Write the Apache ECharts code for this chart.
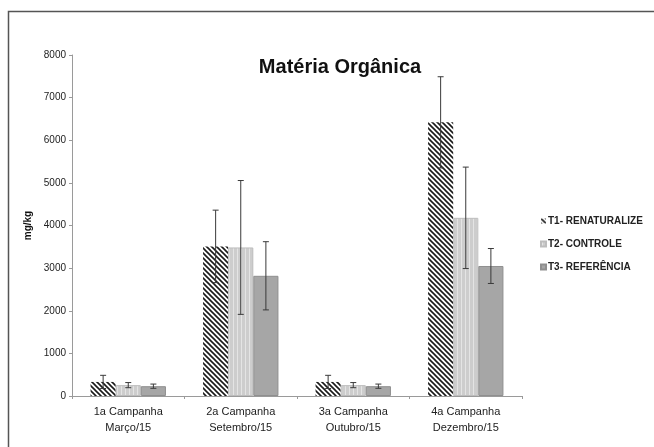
<!DOCTYPE html>
<html>
<head>
<meta charset="utf-8">
<script src="https://cdn.jsdelivr.net/npm/echarts@6/dist/echarts.min.js"></script>
<style>
  html, body { margin: 0; padding: 0; background: #fff; }
  #chart { width: 654px; height: 447px; }
</style>
</head>
<body>
<div id="chart"></div>
<script>
// Campaign categories (two-line labels)
var categories = ['1a Campanha\nMarço/15', '2a Campanha\nSetembro/15', '3a Campanha\nOutubro/15', '4a Campanha\nDezembro/15'];
var seriesNames = ['T1- RENATURALIZE', 'T2- CONTROLE', 'T3- REFERÊNCIA'];

// Means (mg/kg) and standard deviations per treatment
var t1Values = [330, 3510, 330, 6420];
var t1Errors = [155, 850, 155, 1070];
var t2Values = [255, 3485, 255, 4180];
var t2Errors = [60, 1570, 60, 1190];
var t3Values = [230, 2820, 230, 3050];
var t3Errors = [50, 800, 50, 410];

var yTicks = [0, 1000, 2000, 3000, 4000, 5000, 6000, 7000, 8000];

var CAT_GAP = 0.33;

// Diagonal hatch fill
function hatchPattern() {
  var c = document.createElement('canvas');
  c.width = 5; c.height = 5;
  var g = c.getContext('2d');
  g.fillStyle = '#ffffff';
  g.fillRect(0, 0, 5, 5);
  g.strokeStyle = '#1a1a1a';
  g.lineWidth = 1.6;
  g.beginPath();
  g.moveTo(-1, -1); g.lineTo(6, 6);
  g.moveTo(-6, -1); g.lineTo(1, 6);
  g.moveTo(4, -1); g.lineTo(11, 6);
  g.stroke();
  return { image: c, repeat: 'repeat' };
}

// Light gray with fine vertical stripes
function stripePattern() {
  var c = document.createElement('canvas');
  c.width = 4; c.height = 4;
  var g = c.getContext('2d');
  g.fillStyle = '#cdcdcd';
  g.fillRect(0, 0, 4, 4);
  g.fillStyle = '#e4e4e4';
  g.fillRect(1, 0, 1, 4);
  return { image: c, repeat: 'repeat' };
}

var barValues = [t1Values, t2Values, t3Values];
var barErrors = [t1Errors, t2Errors, t3Errors];
var fills = [hatchPattern(), stripePattern(), '#a6a6a6'];
var borders = ['#ffffff', '#bdbdbd', '#8f8f8f'];

var errorData = [];
barValues.forEach(function (vals, s) {
  vals.forEach(function (v, i) {
    errorData.push([i, v - barErrors[s][i], v + barErrors[s][i], s]);
  });
});

var series = seriesNames.map(function (name, s) {
  return {
    name: name,
    type: 'bar',
    data: barValues[s],
    barGap: '0%',
    barCategoryGap: (CAT_GAP * 100) + '%',
    itemStyle: { color: fills[s], borderColor: borders[s], borderWidth: s === 0 ? 0 : 1 },
    emphasis: { disabled: true },
    z: 2
  };
});

series.push({
  type: 'custom',
  name: 'erro',
  data: errorData,
  z: 5,
  encode: { x: 0, y: [1, 2] },
  renderItem: function (params, api) {
    var cat = api.value(0);
    var s = api.value(3);
    var band = api.size([1, 0])[0];
    var barW = band * (1 - CAT_GAP) / 3;
    var offset = -1.5 * barW + barW * (s + 0.5);
    var lo = api.coord([cat, api.value(1)]);
    var hi = api.coord([cat, api.value(2)]);
    var x = lo[0] + offset;
    var cap = 3;
    var style = { stroke: '#3a3a3a', lineWidth: 1 };
    return {
      type: 'group',
      children: [
        { type: 'line', shape: { x1: x, y1: lo[1], x2: x, y2: hi[1] }, style: style },
        { type: 'line', shape: { x1: x - cap, y1: hi[1], x2: x + cap, y2: hi[1] }, style: style },
        { type: 'line', shape: { x1: x - cap, y1: lo[1], x2: x + cap, y2: lo[1] }, style: style }
      ]
    };
  }
});

var chart = echarts.init(document.getElementById('chart'), null, { renderer: 'canvas' });
chart.setOption({
  animation: false,
  backgroundColor: '#ffffff',
  textStyle: { fontFamily: 'Liberation Sans, Arial, sans-serif' },
  title: {
    text: 'Matéria Orgânica',
    left: 335,
    textAlign: 'center',
    top: 52,
    textStyle: { fontSize: 20, fontWeight: 'bold', color: '#111' }
  },
  legend: {
    orient: 'vertical',
    left: 535,
    top: 211,
    itemWidth: 5,
    itemHeight: 5,
    itemGap: 13,
    icon: 'rect',
    data: seriesNames,
    selectedMode: false,
    textStyle: { fontSize: 10, fontWeight: 'bold', color: '#222', padding: [0, 0, 0, -3] }
  },
  graphic: [{
    type: 'rect',
    shape: { x: 8.5, y: 11.5, width: 700, height: 500 },
    style: { fill: null, stroke: '#555', lineWidth: 1.5 },
    silent: true,
    z: 0
  }],
  grid: { left: 72, right: 132, top: 55, bottom: 51, containLabel: false },
  xAxis: {
    type: 'category',
    data: categories,
    axisLine: { lineStyle: { color: '#9a9a9a', width: 1 } },
    axisTick: { show: true, length: 3, lineStyle: { color: '#9a9a9a' } },
    axisLabel: { fontSize: 11, color: '#222', lineHeight: 16, margin: 8 }
  },
  yAxis: {
    type: 'value',
    min: yTicks[0],
    max: yTicks[yTicks.length - 1],
    interval: 1000,
    name: 'mg/kg',
    nameLocation: 'middle',
    nameGap: 29,
    nameTextStyle: { fontSize: 10, fontWeight: 'bold', color: '#111' },
    splitLine: { show: false },
    axisLine: { show: true, lineStyle: { color: '#9a9a9a', width: 1 } },
    axisTick: { show: true, length: 3, lineStyle: { color: '#9a9a9a' } },
    axisLabel: { fontSize: 10, color: '#222', margin: 6, formatter: function (v) { return String(v); } }
  },
  series: series
});
</script>
</body>
</html>
